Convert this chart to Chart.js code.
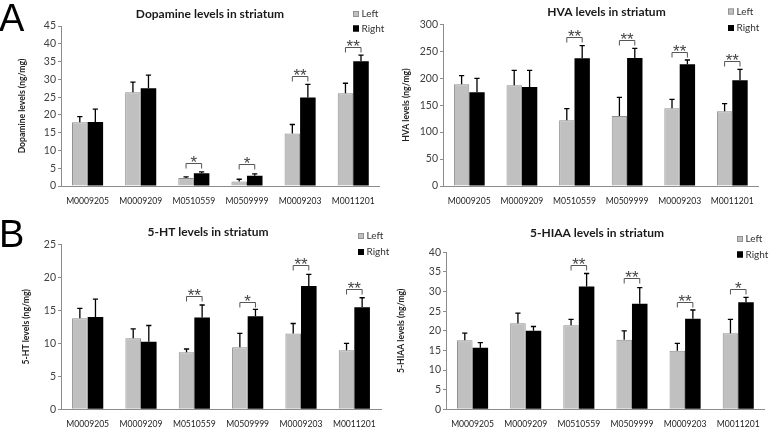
<!DOCTYPE html>
<html><head><meta charset="utf-8">
<script src="https://cdn.jsdelivr.net/npm/chart.js@4.4.0/dist/chart.umd.min.js"></script>
<style>
html,body{margin:0;padding:0;background:#fff;width:770px;height:431px;overflow:hidden}
.box{position:absolute}
canvas{display:block}
</style></head><body>
<div class="box" style="left:0;top:0"><canvas id="c1" width="385" height="215"></canvas></div>
<div class="box" style="left:385px;top:0"><canvas id="c2" width="385" height="215"></canvas></div>
<div class="box" style="left:0;top:215px"><canvas id="c3" width="395" height="216"></canvas></div>
<div class="box" style="left:385px;top:215px"><canvas id="c4" width="385" height="216"></canvas></div>
<script>
// ---------- data ----------
const categories = ['M0009205','M0009209','M0510559','M0509999','M0009203','M0011201'];
const seriesNames = ['Left','Right'];

const dopamineLeft    = [17.9, 26.4, 2.25, 1.3, 14.8, 26.1];
const dopamineLeftSD  = [1.6, 2.8, 0.3, 0.6, 2.5, 2.8];
const dopamineRight   = [18.0, 27.5, 3.6, 2.9, 24.9, 35.1];
const dopamineRightSD = [3.6, 3.7, 0.4, 0.5, 3.7, 1.7];
const dopamineBracket = [null, null, 6.6, 6.2, 30.9, 39.0];
const dopamineSig     = ['', '', '*', '*', '**', '**'];

const hvaLeft    = [188.6, 186.8, 121.8, 129.9, 144.1, 138.5];
const hvaLeftSD  = [16.1, 27.8, 21.7, 34.6, 16.7, 14.3];
const hvaRight   = [173.8, 183.7, 236.9, 237.5, 225.7, 196.0];
const hvaRightSD = [26.0, 30.9, 23.5, 17.9, 8.1, 20.5];
const hvaBracket = [null, null, 276, 270, 248, 231];
const hvaSig     = ['', '', '**', '**', '**', '**'];

const htLeft    = [13.8, 10.76, 8.64, 9.4, 11.5, 8.94];
const htLeftSD  = [1.5, 1.44, 0.5, 2.1, 1.5, 1.06];
const htRight   = [14.0, 10.25, 13.9, 14.1, 18.7, 15.45];
const htRightSD = [2.7, 2.45, 1.9, 1.05, 1.75, 1.45];
const htBracket = [null, null, 17.2, 16.2, 21.9, 18.2];
const htSig     = ['', '', '**', '*', '**', '**'];

const hiaaLeft    = [17.6, 21.9, 21.4, 17.75, 14.9, 19.4];
const hiaaLeftSD  = [1.8, 2.6, 1.5, 2.25, 1.9, 3.5];
const hiaaRight   = [15.7, 20.0, 31.3, 26.9, 23.1, 27.3];
const hiaaRightSD = [1.3, 1.1, 3.3, 4.1, 2.2, 1.2];
const hiaaBracket = [null, null, 36.8, 33.4, 27.3, 30.7];
const hiaaSig     = ['', '', '**', '**', '**', '*'];

const titles = ['Dopamine levels in striatum','HVA levels in striatum','5-HT levels in striatum','5-HIAA levels in striatum'];
const yTitles = ['Dopamine levels (ng/mg)','HVA levels (ng/mg)','5-HT levels (ng/mg)','5-HIAA levels (ng/mg)'];
const yMax = [45, 300, 25, 40];
const yStep = [5, 50, 5, 5];
const panelLetters = ['A', '', 'B', ''];

// ---------- drawing ----------
const FONT = 'Lato, "Open Sans", sans-serif';
const decor = {
  id: 'decor',
  afterDatasetsDraw(chart, args, o) {
    const ctx = chart.ctx;
    const ys = chart.scales.y;
    const sds = [o.sdL, o.sdR];
    ctx.save();
    // error bars
    ctx.strokeStyle = '#000';
    ctx.lineWidth = 1.3;
    for (let d = 0; d < 2; d++) {
      const meta = chart.getDatasetMeta(d);
      const vals = chart.data.datasets[d].data;
      meta.data.forEach((el, j) => {
        const top = ys.getPixelForValue(vals[j] + sds[d][j]);
        ctx.beginPath();
        ctx.moveTo(el.x, el.y);
        ctx.lineTo(el.x, top);
        ctx.moveTo(el.x - 2.6, top);
        ctx.lineTo(el.x + 2.6, top);
        ctx.stroke();
      });
    }
    // significance brackets
    const mL = chart.getDatasetMeta(0), mR = chart.getDatasetMeta(1);
    ctx.lineWidth = 1;
    ctx.strokeStyle = '#555';
    ctx.fillStyle = '#444';
    ctx.font = '17px "Liberation Sans", Arial, sans-serif';
    ctx.textAlign = 'center';
    ctx.textBaseline = 'alphabetic';
    o.bracket.forEach((b, j) => {
      if (b == null) return;
      const xl = mL.data[j].x, xr = mR.data[j].x;
      const y = Math.round(ys.getPixelForValue(b)) + 0.5;
      ctx.beginPath();
      ctx.moveTo(xl, y + 5); ctx.lineTo(xl, y); ctx.lineTo(xr, y); ctx.lineTo(xr, y + 5);
      ctx.stroke();
      ctx.fillText(o.sig[j], (xl + xr) / 2, y + 4.5);
    });
    // title
    ctx.fillStyle = '#1a1a1a';
    ctx.font = 'bold 12px ' + FONT;
    ctx.textBaseline = 'middle';
    ctx.fillText(o.title, o.titleX, o.titleY);
    // legend
    ctx.textAlign = 'left';
    ctx.font = '10px ' + FONT;
    const lg = [['#c0c0c0', '#888'], ['#000', '#000']];
    for (let i = 0; i < 2; i++) {
      const yy = o.legY[i];
      ctx.fillStyle = lg[i][0];
      ctx.fillRect(o.legX, yy - 3, 6, 6);
      ctx.strokeStyle = lg[i][1];
      ctx.lineWidth = 0.8;
      ctx.strokeRect(o.legX + 0.4, yy - 2.6, 5.2, 5.2);
      ctx.fillStyle = '#333';
      ctx.fillText(seriesNames[i], o.legX + 8.5, yy);
    }
    // panel letter
    if (o.letter) {
      ctx.fillStyle = '#000';
      ctx.font = '38px "Liberation Sans", Arial, sans-serif';
      ctx.textBaseline = 'alphabetic';
      ctx.fillText(o.letter, o.letterX, o.letterY);
    }
    ctx.restore();
  }
};

function makeChart(id, idx, L, LSD, R, RSD, br, sig, geo) {
  const cv = document.getElementById(id);
  const H = cv.height, W = cv.width;
  return new Chart(cv, {
    type: 'bar',
    data: {
      labels: categories,
      datasets: [
        { label: seriesNames[0], data: L, backgroundColor: '#c0c0c0', borderColor: '#8f8f8f', borderWidth: 1,
          categoryPercentage: 0.585, barPercentage: 1 },
        { label: seriesNames[1], data: R, backgroundColor: '#000', borderColor: '#000', borderWidth: 0,
          categoryPercentage: 0.585, barPercentage: 1 }
      ]
    },
    options: {
      responsive: false,
      animation: false,
      layout: { padding: { left: 0, top: geo.top, right: W - geo.right, bottom: 0 } },
      plugins: {
        legend: { display: false },
        tooltip: { enabled: false },
        decor: {
          sdL: LSD, sdR: RSD, bracket: br, sig: sig,
          title: titles[idx], titleX: geo.titleX, titleY: geo.titleY,
          legX: geo.legX, legY: geo.legY,
          letter: panelLetters[idx], letterX: -1, letterY: geo.letterY
        }
      },
      scales: {
        x: {
          grid: { display: false, drawTicks: false },
          border: { display: true, color: '#8c8c8c', width: 1 },
          ticks: { autoSkip: false, maxRotation: 0, minRotation: 0, padding: 10,
                   color: '#222', font: { family: FONT, size: 8.6 } },
          afterFit(s) { s.height = H - geo.bottom; }
        },
        y: {
          min: 0, max: yMax[idx],
          grid: { drawOnChartArea: false, drawTicks: true, tickLength: 3, color: '#8c8c8c' },
          border: { display: true, color: '#8c8c8c', width: 1 },
          ticks: { stepSize: yStep[idx], padding: 2, color: '#404040', font: { family: FONT, size: 10.5 } },
          title: { display: true, text: yTitles[idx], color: '#222',
                   font: { family: FONT, size: 8.6, weight: 'bold' }, padding: { top: geo.yTitleX - 5.2, bottom: 0 } },
          afterFit(s) { s.width = geo.left; }
        }
      }
    },
    plugins: [decor]
  });
}

makeChart('c1', 0, dopamineLeft, dopamineLeftSD, dopamineRight, dopamineRightSD, dopamineBracket, dopamineSig,
  { left: 61, right: 381, top: 26, bottom: 186, titleX: 210, titleY: 14, legX: 353, legY: [14, 28.5],
    yTitleX: 22, letterY: 31 });
makeChart('c2', 1, hvaLeft, hvaLeftSD, hvaRight, hvaRightSD, hvaBracket, hvaSig,
  { left: 58, right: 373.6, top: 24.3, bottom: 186, titleX: 221.5, titleY: 12, legX: 343, legY: [11.5, 28],
    yTitleX: 21, letterY: 0 });
makeChart('c3', 2, htLeft, htLeftSD, htRight, htRightSD, htBracket, htSig,
  { left: 61, right: 381, top: 29.3, bottom: 194.3, titleX: 208, titleY: 17, legX: 358, legY: [21, 37],
    yTitleX: 26, letterY: 32 });
makeChart('c4', 3, hiaaLeft, hiaaLeftSD, hiaaRight, hiaaRightSD, hiaaBracket, hiaaSig,
  { left: 61, right: 381, top: 37.3, bottom: 194.3, titleX: 212, titleY: 18, legX: 352, legY: [24, 39.5],
    yTitleX: 16, letterY: 0 });
</script>
</body></html>
